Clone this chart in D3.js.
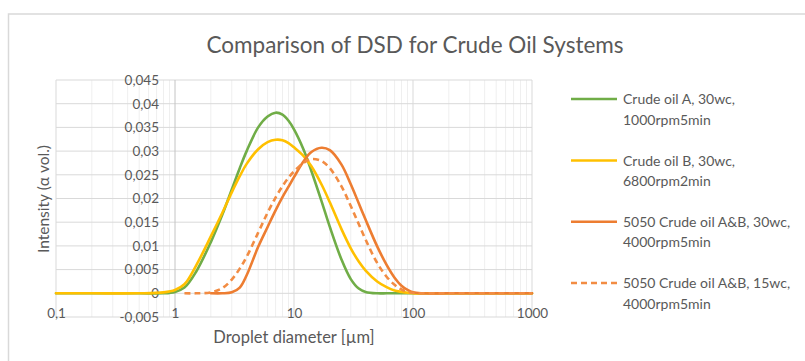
<!DOCTYPE html>
<html>
<head>
<meta charset="utf-8">
<script src="https://cdn.jsdelivr.net/npm/d3@7"></script>
<style>
  html, body { margin: 0; padding: 0; background: #fff; }
  svg { display: block; font-family: Lato, "Open Sans", sans-serif; }
</style>
</head>
<body>
<svg id="chart" width="805" height="361"></svg>
<script>
// Droplet size classes [µm]
const sizes = [0.1, 0.2, 0.5, 0.8, 1, 1.2, 1.5, 2, 2.5, 3, 3.5, 4, 5, 6, 7, 8, 9, 10,
               12, 14, 17, 20, 25, 30, 35, 40, 50, 60, 70, 80, 90, 100, 120, 200, 500, 1000];

// Volume intensity per size class (null = not measured)
const oilA30 = [0, 0, 0, 0, 0.0003, 0.0012, 0.0045, 0.0108, 0.0166, 0.0219, 0.0264, 0.0300,
                0.0350, 0.0373, 0.0381, 0.0377, 0.0364, 0.0346, 0.0304, 0.0258, 0.0195, 0.0140,
                0.0072, 0.0030, 0.0010, 0.0003, 0, 0, 0, 0, 0, 0, 0, 0, 0, 0];
const oilB30 = [0, 0, 0, 0.0002, 0.0007, 0.0019, 0.0058, 0.0120, 0.0170, 0.0213, 0.0247, 0.0273,
                0.0304, 0.0319, 0.0324, 0.0323, 0.0317, 0.0308, 0.0290, 0.0268, 0.0230, 0.0192,
                0.0136, 0.0095, 0.0067, 0.0048, 0.0025, 0.0013, 0.0006, 0.0003, 0.0001, 0, 0, 0, 0, 0];
const mixAB30 = [null, null, null, null, null, null, null, 0, 0, 0.0002, 0.0012, 0.0038,
                 0.0098, 0.0140, 0.0175, 0.0203, 0.0225, 0.0245, 0.0278, 0.0298, 0.0307, 0.0302,
                 0.0272, 0.0230, 0.0190, 0.0155, 0.0099, 0.0060, 0.0033, 0.0016, 0.0007, 0.0002, 0, 0, 0, 0];
const mixAB15 = [null, null, null, null, null, 0, 0, 0.0002, 0.0011, 0.0029, 0.0052, 0.0077,
                 0.0128, 0.0170, 0.0202, 0.0226, 0.0244, 0.0257, 0.0275, 0.0283, 0.0279, 0.0264,
                 0.0226, 0.0184, 0.0146, 0.0113, 0.0064, 0.0035, 0.0018, 0.0008, 0.0003, 0.0001, 0, 0, 0, 0];

const seriesLabels = [
  ["Crude oil A, 30wc,", "1000rpm5min"],
  ["Crude oil B, 30wc,", "6800rpm2min"],
  ["5050 Crude oil A&B, 30wc,", "4000rpm5min"],
  ["5050 Crude oil A&B, 15wc,", "4000rpm5min"]
];
const seriesColors = ["#70AD47", "#FFC000", "#ED7D31", "#F28C43"];
const seriesDash = [null, null, null, "6,4"];

const xTicks = [0.1, 1, 10, 100, 1000];
const yTicks = [-0.005, 0, 0.005, 0.01, 0.015, 0.02, 0.025, 0.03, 0.035, 0.04, 0.045];

const chartTitle = "Comparison of DSD for Crude Oil Systems";
const xTitle = "Droplet diameter [µm]";
const yTitle = "Intensity (α vol.)";

const svg = d3.select("#chart");
const textColor = "#595959";

const locale = d3.formatLocale({decimal: ",", thousands: " ", grouping: [3], currency: ["", ""], minus: "-"});
const fmtY = v => v === 0 ? "0" : locale.format(".3~f")(v);
const fmtX = locale.format("~g");

const x = d3.scaleLog().domain([0.1, 1000]).range([56, 532]);
const y = d3.scaleLinear().domain([-0.005, 0.045]).range([317, 80]);

// outer chart frame
svg.append("rect")
  .attr("x", 8.5).attr("y", 14).attr("width", 820).attr("height", 400)
  .attr("fill", "none").attr("stroke", "#d9d9d9").attr("stroke-width", 1.5);

// gridlines
const grid = svg.append("g");
const minor = [];
[0.1, 1, 10, 100].forEach(k => { for (let m = 2; m <= 9; m++) minor.push(k * m); });
grid.selectAll("line.minor").data(minor).join("line")
  .attr("x1", d => x(d)).attr("x2", d => x(d))
  .attr("y1", y(0.045)).attr("y2", y(-0.005))
  .attr("stroke", "#efefef").attr("stroke-width", 1);
grid.selectAll("line.hmaj").data(yTicks).join("line")
  .attr("x1", x(0.1)).attr("x2", x(1000))
  .attr("y1", d => y(d)).attr("y2", d => y(d))
  .attr("stroke", "#d9d9d9").attr("stroke-width", 1);
grid.selectAll("line.vmaj").data(xTicks).join("line")
  .attr("x1", d => x(d)).attr("x2", d => x(d))
  .attr("y1", y(0.045)).attr("y2", y(-0.005))
  .attr("stroke", d => d === 1 ? "#c4c4c4" : "#d9d9d9").attr("stroke-width", 1);

// axes (labels only)
const yAxis = svg.append("g")
  .attr("transform", `translate(160,0)`)
  .call(d3.axisLeft(y).tickValues(yTicks).tickFormat(fmtY).tickSize(0).tickPadding(1));
const xAxis = svg.append("g")
  .attr("transform", `translate(0,${y(-0.005)})`)
  .call(d3.axisBottom(x).tickValues(xTicks).tickFormat(fmtX).tickSize(0).tickPadding(-9));
[yAxis, xAxis].forEach(g => {
  g.select(".domain").remove();
  g.selectAll("text").attr("fill", textColor).style("font-size", "13.5px")
    .style("font-family", "Lato, sans-serif");
});

// series lines
const series = [oilA30, oilB30, mixAB30, mixAB15];
const line = d3.line()
  .defined(d => d[1] !== null)
  .x(d => x(d[0])).y(d => y(d[1]))
  .curve(d3.curveCatmullRom.alpha(0.5));
series.forEach((vals, i) => {
  svg.append("path")
    .datum(sizes.map((s, j) => [s, vals[j]]))
    .attr("d", line)
    .attr("fill", "none")
    .attr("stroke", seriesColors[i])
    .attr("stroke-width", 2.6)
    .attr("stroke-linecap", seriesDash[i] ? "butt" : "round")
    .attr("stroke-dasharray", seriesDash[i]);
});

// titles
svg.append("text").attr("x", 415).attr("y", 53).attr("text-anchor", "middle")
  .attr("fill", textColor).style("font-size", "22.5px").text(chartTitle);
svg.append("text").attr("x", 294).attr("y", 343).attr("text-anchor", "middle")
  .attr("fill", textColor).style("font-size", "16.5px").text(xTitle);
svg.append("text").attr("transform", "translate(49,199) rotate(-90)").attr("text-anchor", "middle")
  .attr("fill", textColor).style("font-size", "15.5px").text(yTitle);

// legend
const legendTop = [99, 160.5, 221.7, 283];
const legend = svg.append("g");
seriesLabels.forEach((lab, i) => {
  const g = legend.append("g").attr("transform", `translate(0,${legendTop[i]})`);
  g.append("line").attr("x1", 571).attr("x2", 617).attr("y1", 0).attr("y2", 0)
    .attr("stroke", seriesColors[i]).attr("stroke-width", 2.6)
    .attr("stroke-dasharray", seriesDash[i]);
  g.append("text").attr("x", 623).attr("y", 5).attr("fill", textColor)
    .style("font-size", "14px").text(lab[0]);
  g.append("text").attr("x", 623).attr("y", 25.5).attr("fill", textColor)
    .style("font-size", "14px").text(lab[1]);
});
</script>
</body>
</html>
